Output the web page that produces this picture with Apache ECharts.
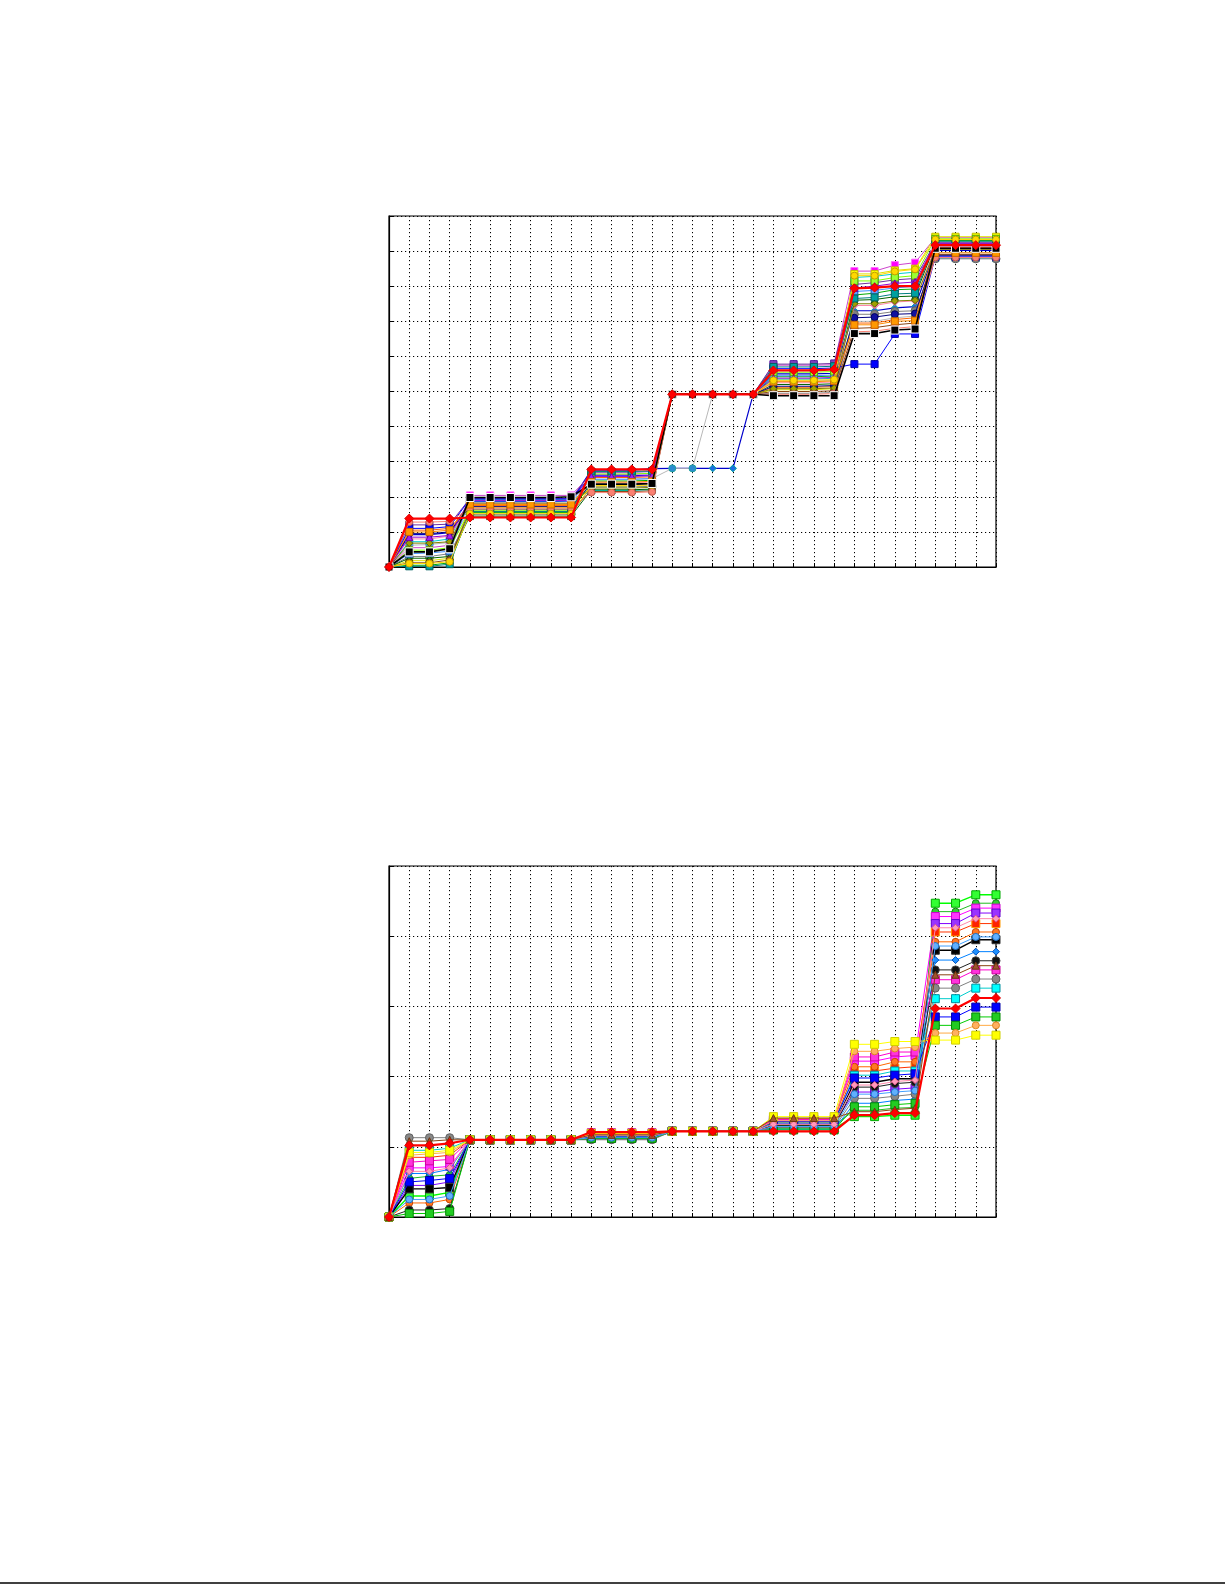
<!DOCTYPE html>
<html><head><meta charset="utf-8">
<script src="https://cdn.jsdelivr.net/npm/echarts@6/dist/echarts.min.js"></script>
<style>html,body{margin:0;padding:0;background:#fff}#c{width:1225px;height:1585px}</style>
</head><body><div id="c"></div>
<script>
// x positions (31 steps)
const xs = [0,1,2,3,4,5,6,7,8,9,10,11,12,13,14,15,16,17,18,19,20,21,22,23,24,25,26,27,28,29,30];

// ---------- TOP CHART values ----------
const A01 = [0,1.38,1.38,1.38,1.41,1.41,1.41,1.41,1.41,1.41,2.78,2.78,2.78,2.78,4.92,4.92,4.92,4.92,4.92,5.60,5.60,5.60,5.63,7.94,7.96,8.00,8.00,9.17,9.17,9.17,9.17];
const A02 = [0,0.92,0.92,0.98,1.86,1.86,1.86,1.86,1.86,1.88,2.76,2.76,2.76,2.80,2.81,2.81,2.81,2.81,4.92,5.50,5.50,5.50,5.52,7.30,7.30,7.38,7.42,9.02,9.02,9.02,9.02];
const A03 = [0,0.62,0.64,0.70,1.62,1.62,1.62,1.62,1.62,1.62,2.50,2.50,2.50,2.52,2.81,2.81,4.92,4.92,4.92,5.30,5.30,5.30,5.32,7.00,7.00,7.10,7.15,8.95,8.95,8.95,8.95];
const A04 = [0,0.43,0.43,0.52,1.98,1.98,1.98,1.98,1.98,2.00,2.36,2.36,2.36,2.38,4.92,4.92,4.92,4.92,4.92,4.88,4.88,4.88,4.88,6.65,6.65,6.75,6.78,9.08,9.08,9.08,9.08];
const A05 = [0,0.55,0.55,0.62,2.04,2.04,2.04,2.04,2.04,2.04,2.64,2.64,2.64,2.66,4.92,4.92,4.92,4.92,4.92,5.75,5.75,5.75,5.76,8.43,8.43,8.60,8.67,9.38,9.38,9.38,9.38];
const A06 = [0,0.72,0.72,0.80,1.92,1.92,1.92,1.92,1.92,1.93,2.18,2.18,2.18,2.20,4.92,4.92,4.92,4.92,4.92,5.35,5.35,5.35,5.38,8.25,8.28,8.35,8.40,8.80,8.80,8.80,8.80];
const A07 = [0,0.18,0.18,0.25,1.70,1.70,1.70,1.70,1.70,1.70,2.30,2.30,2.30,2.32,4.92,4.92,4.92,4.92,4.92,5.05,5.05,5.05,5.08,8.35,8.35,8.45,8.50,9.41,9.41,9.41,9.41];
const A08 = [0,0.05,0.05,0.12,1.55,1.55,1.55,1.55,1.55,1.55,2.45,2.45,2.45,2.47,4.92,4.92,4.92,4.92,4.92,5.42,5.42,5.42,5.44,7.75,7.80,7.90,7.92,9.30,9.30,9.30,9.30];
const A09 = [0,1.05,1.05,1.10,1.75,1.75,1.75,1.75,1.75,1.75,2.55,2.55,2.55,2.57,4.92,4.92,4.92,4.92,4.92,5.12,5.12,5.12,5.14,6.95,6.95,7.05,7.10,9.10,9.10,9.10,9.10];
const A10 = [0,1.20,1.20,1.22,1.95,1.95,1.95,1.95,1.95,1.95,2.70,2.70,2.70,2.72,4.92,4.92,4.92,4.92,4.92,5.78,5.78,5.78,5.80,8.05,8.10,8.18,8.22,9.25,9.25,9.25,9.25];
const A11 = [0,0.30,0.30,0.38,1.50,1.50,1.50,1.50,1.50,1.50,2.28,2.28,2.28,2.30,4.92,4.92,4.92,4.92,4.92,4.95,4.95,4.95,4.97,7.20,7.20,7.28,7.30,8.78,8.78,8.78,8.78];
const A12 = [0,1.10,1.10,1.15,1.94,1.94,1.94,1.94,1.94,1.94,2.60,2.60,2.60,2.62,4.92,4.92,4.92,4.92,4.92,5.65,5.65,5.65,5.67,5.78,5.78,6.64,6.64,8.84,8.84,8.84,8.84];
const A13 = [0,0.25,0.25,0.30,1.45,1.45,1.45,1.45,1.45,1.45,2.20,2.20,2.20,2.22,4.92,4.92,4.92,4.92,4.92,5.20,5.20,5.20,5.22,7.60,7.62,7.70,7.72,9.20,9.20,9.20,9.20];
const A14 = [0,0.80,0.80,0.88,1.80,1.80,1.80,1.80,1.80,1.80,2.40,2.40,2.40,2.42,4.92,4.92,4.92,4.92,4.92,5.25,5.25,5.25,5.27,7.45,7.45,7.55,7.58,9.12,9.12,9.12,9.12];
const A15 = [0,0.12,0.12,0.20,1.65,1.65,1.65,1.65,1.65,1.65,2.15,2.15,2.15,2.17,4.92,4.92,4.92,4.92,4.92,5.00,5.00,5.00,5.02,6.80,6.82,6.90,6.95,8.90,8.90,8.90,8.90];
const A16 = [0,0.38,0.40,0.45,1.88,1.88,1.88,1.88,1.88,1.88,2.50,2.50,2.50,2.52,4.92,4.92,4.92,4.92,4.92,5.45,5.45,5.45,5.47,7.85,7.88,7.95,8.00,9.15,9.15,9.15,9.15];
const A17 = [0,0.48,0.48,0.55,1.60,1.60,1.60,1.60,1.60,1.60,2.65,2.65,2.65,2.67,4.92,4.92,4.92,4.92,4.92,5.55,5.55,5.55,5.57,8.15,8.15,8.25,8.30,9.35,9.35,9.35,9.35];
const A18 = [0,0.95,0.95,1.00,1.72,1.72,1.72,1.72,1.72,1.72,2.35,2.35,2.35,2.37,4.92,4.92,4.92,4.92,4.92,5.15,5.15,5.15,5.17,7.10,7.12,7.20,7.22,8.88,8.88,8.88,8.88];
const A19 = [0,0.68,0.68,0.72,1.82,1.82,1.82,1.82,1.82,1.82,2.25,2.25,2.25,2.27,4.92,4.92,4.92,4.92,4.92,5.08,5.08,5.08,5.10,7.50,7.50,7.58,7.60,9.05,9.05,9.05,9.05];
const A20 = [0,0.02,0.02,0.08,1.58,1.58,1.58,1.58,1.58,1.58,2.72,2.72,2.72,2.74,4.92,4.92,4.92,4.92,4.92,5.70,5.70,5.70,5.72,7.65,7.68,7.78,7.80,9.28,9.28,9.28,9.28];
const A21 = [0,1.28,1.28,1.30,1.68,1.68,1.68,1.68,1.68,1.68,2.12,2.12,2.12,2.14,4.92,4.92,4.92,4.92,4.92,4.92,4.92,4.92,4.94,6.70,6.72,6.80,6.85,8.82,8.82,8.82,8.82];
const A22 = [0,0.85,0.85,0.90,1.90,1.90,1.90,1.90,1.90,1.90,2.58,2.58,2.58,2.60,4.92,4.92,4.92,4.92,4.92,5.38,5.38,5.38,5.40,7.95,8.00,8.08,8.12,9.22,9.22,9.22,9.22];
const A23 = [0,1.00,1.00,1.05,1.78,1.78,1.78,1.78,1.78,1.78,2.42,2.42,2.42,2.44,4.92,4.92,4.92,4.92,4.92,5.28,5.28,5.28,5.30,6.90,6.90,7.00,7.02,8.95,8.95,8.95,8.95];
const A24 = [0,0.10,0.10,0.15,1.52,1.52,1.52,1.52,1.52,1.52,2.32,2.32,2.32,2.34,4.92,4.92,4.92,4.92,4.92,5.32,5.32,5.32,5.34,8.30,8.30,8.42,8.48,9.33,9.33,9.33,9.33];

// ---------- BOTTOM CHART values ----------
const B01 = [0,0.30,0.30,0.35,1.10,1.10,1.10,1.10,1.10,1.10,1.14,1.14,1.14,1.14,1.22,1.22,1.22,1.22,1.22,1.26,1.26,1.26,1.26,1.43,1.43,1.45,1.45,4.47,4.47,4.59,4.59];
const B02 = [0,0.55,0.58,0.60,1.10,1.10,1.10,1.10,1.10,1.10,1.16,1.16,1.16,1.16,1.22,1.22,1.22,1.22,1.22,1.30,1.30,1.30,1.30,1.52,1.52,1.55,1.56,4.35,4.35,4.47,4.47];
const B03 = [0,0.70,0.70,0.72,1.10,1.10,1.10,1.10,1.10,1.10,1.18,1.18,1.18,1.18,1.22,1.22,1.22,1.22,1.22,1.38,1.38,1.38,1.38,2.22,2.22,2.28,2.30,4.28,4.28,4.40,4.40];
const B04 = [0,0.45,0.45,0.50,1.10,1.10,1.10,1.10,1.10,1.10,1.12,1.12,1.12,1.12,1.22,1.22,1.22,1.22,1.22,1.33,1.33,1.33,1.33,1.78,1.78,1.82,1.84,4.18,4.18,4.33,4.33];
const B05 = [0,0.85,0.85,0.88,1.10,1.10,1.10,1.10,1.10,1.10,1.19,1.19,1.19,1.19,1.22,1.22,1.22,1.22,1.22,1.35,1.35,1.35,1.35,2.08,2.08,2.12,2.14,4.06,4.06,4.18,4.18];
const B06 = [0,0.20,0.20,0.25,1.10,1.10,1.10,1.10,1.10,1.10,1.15,1.15,1.15,1.15,1.22,1.22,1.22,1.22,1.22,1.40,1.40,1.40,1.40,2.14,2.14,2.21,2.21,3.92,3.92,4.06,4.06];
const B07 = [0,0.40,0.40,0.42,1.10,1.10,1.10,1.10,1.10,1.10,1.13,1.13,1.13,1.13,1.22,1.22,1.22,1.22,1.22,1.31,1.31,1.31,1.31,1.92,1.92,1.97,1.97,3.80,3.80,3.95,3.95];
const B08 = [0,0.62,0.62,0.68,1.10,1.10,1.10,1.10,1.10,1.10,1.17,1.17,1.17,1.17,1.22,1.22,1.22,1.22,1.22,1.25,1.25,1.25,1.25,1.62,1.62,1.66,1.68,3.66,3.66,3.78,3.78];
const B09 = [0,0.10,0.10,0.12,1.10,1.10,1.10,1.10,1.10,1.10,1.11,1.11,1.11,1.11,1.22,1.22,1.22,1.22,1.22,1.28,1.28,1.28,1.28,1.85,1.85,1.90,1.92,3.52,3.52,3.65,3.65];
const B10 = [0,0.78,0.80,0.82,1.10,1.10,1.10,1.10,1.10,1.10,1.20,1.20,1.20,1.20,1.22,1.22,1.22,1.22,1.22,1.39,1.39,1.39,1.39,2.28,2.28,2.35,2.35,3.38,3.38,3.52,3.52];
const B11 = [0,1.13,1.13,1.13,1.10,1.10,1.10,1.10,1.10,1.10,1.10,1.10,1.10,1.10,1.22,1.22,1.22,1.22,1.22,1.27,1.27,1.27,1.27,1.69,1.69,1.72,1.75,3.26,3.26,3.39,3.39];
const B12 = [0,0.95,0.95,0.98,1.10,1.10,1.10,1.10,1.10,1.10,1.15,1.15,1.15,1.15,1.22,1.22,1.22,1.22,1.22,1.34,1.34,1.34,1.34,2.02,2.02,2.08,2.08,3.11,3.11,3.26,3.26];
const B13 = [0,1.02,1.02,1.05,1.10,1.10,1.10,1.10,1.10,1.10,1.21,1.21,1.21,1.21,1.22,1.22,1.22,1.22,1.22,1.22,1.22,1.22,1.22,1.45,1.45,1.48,1.48,2.97,2.97,3.12,3.12];
const B14 = [0,0.50,0.52,0.55,1.10,1.10,1.10,1.10,1.10,1.10,1.14,1.14,1.14,1.14,1.22,1.22,1.22,1.22,1.22,1.36,1.36,1.36,1.36,1.98,1.98,2.02,2.04,2.85,2.85,2.99,2.99];
const B15 = [0,0.05,0.05,0.08,1.10,1.10,1.10,1.10,1.10,1.10,1.12,1.12,1.12,1.12,1.22,1.22,1.22,1.22,1.22,1.24,1.24,1.24,1.24,1.57,1.57,1.60,1.62,2.73,2.73,2.85,2.85];
const B16 = [0,0.88,0.90,0.92,1.10,1.10,1.10,1.10,1.10,1.10,1.18,1.18,1.18,1.18,1.22,1.22,1.22,1.22,1.22,1.37,1.37,1.37,1.37,2.36,2.36,2.40,2.42,2.62,2.62,2.73,2.73];
const B17 = [0,0.92,0.92,0.95,1.10,1.10,1.10,1.10,1.10,1.10,1.19,1.19,1.19,1.19,1.22,1.22,1.22,1.22,1.22,1.43,1.43,1.43,1.43,2.46,2.46,2.50,2.50,2.52,2.52,2.59,2.59];
const B18 = [0,0.25,0.25,0.30,1.10,1.10,1.10,1.10,1.10,1.10,1.13,1.13,1.13,1.13,1.22,1.22,1.22,1.22,1.22,1.29,1.29,1.29,1.29,1.75,1.75,1.78,1.80,3.86,3.86,3.99,3.99];
const B19 = [0,0.65,0.65,0.70,1.10,1.10,1.10,1.10,1.10,1.10,1.16,1.16,1.16,1.16,1.22,1.22,1.22,1.22,1.22,1.32,1.32,1.32,1.32,1.88,1.88,1.93,1.95,4.12,4.12,4.25,4.25];
const B20 = [0,1.08,1.08,1.10,1.10,1.10,1.10,1.10,1.10,1.10,1.17,1.17,1.17,1.17,1.22,1.22,1.22,1.22,1.22,1.41,1.41,1.41,1.41,1.50,1.50,1.53,1.55,3.45,3.45,3.58,3.58];

const topData = [A02,A03,A05,A06,A07,A08,A09,A10,A11,A12,A13,A14,A15,A16,A17,A18,A19,A20,A21,A22,A23,A24,A04,A01];
const botData = [B01,B02,B03,B04,B05,B06,B07,B08,B09,B10,B11,B12,B14,B15,B16,B17,B18,B19,B20,B13];

// styles (line colour, marker fill, marker edge, symbol, line width, marker size)
const topStyle = [
  ['#0000cc','#1a6ee0','#00a0a0','diamond',1.2,7],
  ['#b8b8b8','#2a8cd0','#20a0a0','circle',1,7],
  ['#cc44cc','#ff00ff','#ff66ff','rect',1,7],
  ['#00cccc','#00ffff','#20a0c0','rect',1,7],
  ['#e0e000','#ffff00','#c0c000','rect',1,7],
  ['#00aa00','#00dd00','#008800','circle',1,7],
  ['#ff6600','#ff7f27','#cc5500','circle',1,7],
  ['#7030a0','#8040c0','#5020a0','rect',1,7],
  ['#808080','#808080','#606060','circle',1,8],
  ['#0000ff','#0000ff','#0000aa','rect',1,7],
  ['#006400','#228b22','#004400','triangle',1,7],
  ['#ff88aa','#ff99bb','#dd5588','diamond',1,7],
  ['#8b4513','#a0522d','#6b3510','circle',1,7],
  ['#4090ff','#60a0ff','#2060c0','rect',1,7],
  ['#80ff00','#99ff33','#55aa00','rect',1,7],
  ['#000080','#1010a0','#000060','circle',1,7],
  ['#808000','#a0a000','#606000','diamond',1,7],
  ['#008080','#00a0a0','#006060','rect',1,7],
  ['#fa8072','#fa8072','#c06050','circle',1,7],
  ['#9400d3','#a020f0','#7000a0','triangle',1,7],
  ['#ff8c00','#ff9900','#cc6600','rect',1,7],
  ['#ffd700','#ffd700','#c0a000','circle',1,7],
  ['#000000','#000000','#ffffff','rect',1.6,8],
  ['#ff0000','#ff0000','#dd0000','diamond',2.2,9]
];
const botStyle = [
  ['#00ff00','#33ff33','#00aa00','rect',1.4,8],
  ['#22bb22','#33cc33','#118811','circle',1,7],
  ['#ff00ff','#ff33ff','#cc00cc','rect',1,8],
  ['#8000ff','#9933ff','#6000cc','rect',1,8],
  ['#ff3300','#ff2200','#ff9900','rect',1,8],
  ['#ff6600','#ff7722','#cc4400','circle',1,7],
  ['#000000','#000000','#333333','rect',1.4,8],
  ['#0080ff','#1e90ff','#0050c0','diamond',1,7],
  ['#222222','#111111','#444444','circle',1,8],
  ['#ff00cc','#ff33dd','#cc0099','rect',1,8],
  ['#808080','#888888','#606060','circle',1,8],
  ['#00cccc','#00ffff','#0090a0','rect',1,8],
  ['#0000ff','#0000ff','#0000aa','rect',1,8],
  ['#00cc00','#22cc22','#008800','rect',1,8],
  ['#ffaa44','#ffb060','#dd8822','circle',1,7],
  ['#ffff00','#ffff00','#d0d000','rect',1,8],
  ['#40a0ff','#60b0ff','#2070c0','circle',1,7],
  ['#ff88aa','#ff99bb','#dd5588','diamond',1,7],
  ['#8b4513','#a0522d','#6b3510','triangle',1,7],
  ['#ff0000','#ff0000','#dd0000','diamond',2.2,9]
];

function mkSeries(list, styles, axisIdx){
  return list.map((vals,i)=>{
    const s = styles[i];
    return {
      type:'line', xAxisIndex:axisIdx, yAxisIndex:axisIdx,
      data: xs.map((x,k)=>[x, vals[k]]),
      symbol:s[3], symbolSize:s[5],
      lineStyle:{color:s[0], width:s[4]},
      itemStyle:{color:s[1], borderColor:s[2], borderWidth:1},
      animation:false, z: 2 + i*0.01, silent:true
    };
  });
}

const dotted = {type:[1.2,2.8], color:'#000', width:1};
function xAx(gi){
  return {gridIndex:gi, type:'value', min:0, max:30, interval:1,
    axisLine:{show:true, onZero:false, lineStyle:{color:'#000', width:1.2}},
    axisTick:{show:true, inside:true, length:4, lineStyle:{color:'#000'}},
    axisLabel:{show:false}, splitLine:{show:true, lineStyle:dotted}};
}
function yAx(gi, max){
  return {gridIndex:gi, type:'value', min:0, max:max, interval:1,
    axisLine:{show:true, onZero:false, lineStyle:{color:'#000', width:1.2}},
    axisTick:{show:true, inside:true, length:4, lineStyle:{color:'#000'}},
    axisLabel:{show:false}, splitLine:{show:true, lineStyle:dotted}};
}

const chart = echarts.init(document.getElementById('c'), null, {renderer:'canvas'});
chart.setOption({
  backgroundColor:'#ffffff',
  animation:false,
  grid:[
    {left:389, top:216, width:607, height:351, show:true, borderColor:'#000', borderWidth:1.2, backgroundColor:'transparent'},
    {left:389, top:866, width:607, height:351, show:true, borderColor:'#000', borderWidth:1.2, backgroundColor:'transparent'}
  ],
  xAxis:[xAx(0), xAx(1)],
  yAxis:[yAx(0,10), yAx(1,5)],
  series: mkSeries(topData, topStyle, 0).concat(mkSeries(botData, botStyle, 1)),
  graphic:[
    {type:'line', shape:{x1:0, y1:1583, x2:1225, y2:1583}, style:{stroke:'#000', lineWidth:1.5}}
  ]
});
</script>
</body></html>
